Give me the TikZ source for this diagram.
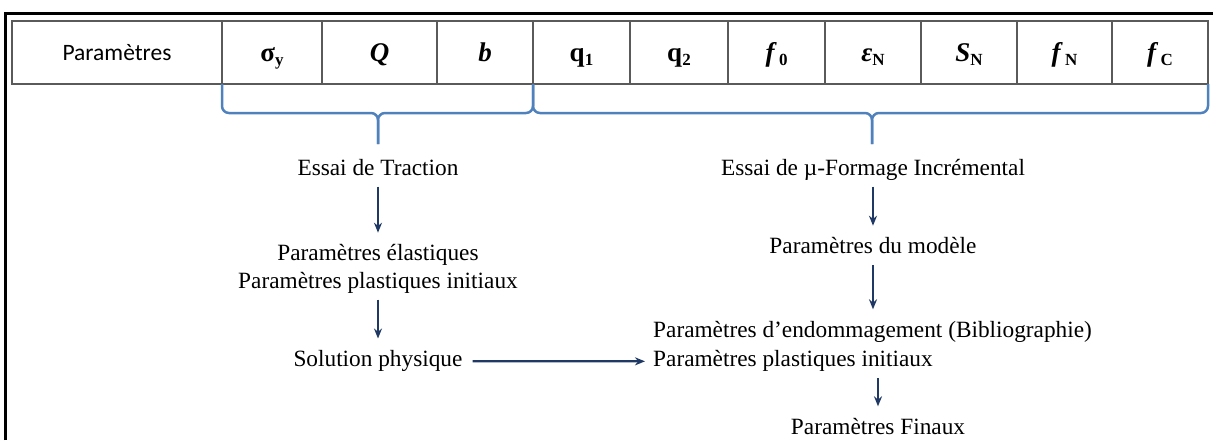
\documentclass[tikz,border=0pt]{standalone}
\usepackage{fontspec}
\setmainfont{Liberation Serif}
\newfontfamily\calib{Carlito}
\usetikzlibrary{arrows.meta, positioning, calc}
\definecolor{bracecol}{RGB}{79,129,189}
\definecolor{arrcol}{RGB}{31,56,100}
\definecolor{gridcol}{RGB}{90,90,90}
\newcommand{\idx}[1]{\raisebox{-0.35ex}{\fontsize{17}{17}\selectfont\bfseries\upshape #1}}
\tikzset{
  cell/.style = {rectangle, draw=gridcol, line width=1.5pt, minimum height=63pt,
                 inner sep=0pt, outer sep=0pt,
                 font=\fontsize{27}{30}\selectfont\bfseries},
  sym/.style  = {cell, text height=19pt, text depth=1pt},
  txt/.style  = {inner sep=0pt, text height=16pt, text depth=5pt,
                 font=\fontsize{23.3}{28}\selectfont},
  arr/.style  = {-{Stealth[length=10pt, width=8pt]}, line width=2.2pt, draw=arrcol,
                 shorten <=6pt, shorten >=12pt},
  brc/.style  = {draw=bracecol, line width=2.5pt, rounded corners=7pt},
}

\begin{document}
\begin{tikzpicture}[x=1pt, y=-1pt]
  \useasboundingbox (0,0) rectangle (1213,440);
  \draw[line width=3pt] (5,440) -- (5,13) -- (1213,13);

  % table of parameters
  \node[cell, anchor=north west, minimum width=210pt,
        font=\calib\fontsize{23.5}{28}\selectfont] (par) at (12,21) {Paramètres};
  \node[sym, right=0pt of par, minimum width=100pt] (sy) {σ\idx{y}};
  \node[sym, right=0pt of sy, minimum width=115pt] (Q) {\itshape Q};
  \node[sym, right=0pt of Q, minimum width=96pt] (b) {\itshape b};
  \node[sym, right=0pt of b, minimum width=97pt] (q1) {q\idx{1}};
  \node[sym, right=0pt of q1, minimum width=98pt] (q2) {q\idx{2}};
  \node[sym, right=0pt of q2, minimum width=97pt] (f0) {{\itshape f}\,\idx{0}};
  \node[sym, right=0pt of f0, minimum width=96pt] (eN) {{\itshape ε}\idx{N}};
  \node[sym, right=0pt of eN, minimum width=96pt] (SN) {{\itshape S}\idx{N}};
  \node[sym, right=0pt of SN, minimum width=95pt] (fN) {{\itshape f}\,\idx{N}};
  \node[sym, right=0pt of fN, minimum width=96pt] (fC) {{\itshape f}\,\idx{C}};

  % braces
  \coordinate (tipL) at (378,144);
  \coordinate (tipR) at (872,144);
  \draw[brc] (sy.south west) |- ($(tipL)+(0,-31)$) -- (tipL);
  \draw[brc] (b.south east) |- ($(tipL)+(0,-31)$) -- (tipL);
  \draw[brc] (q1.south west) |- ($(tipR)+(0,-31)$) -- (tipR);
  \draw[brc] (fC.south east) |- ($(tipR)+(0,-31)$) -- (tipR);

  % left column
  \node[txt] (ess1) at (378,170) {Essai de Traction};
  \node[txt, below=64pt of ess1] (elast1) {Paramètres élastiques};
  \node[txt, below=6pt of elast1] (elast2) {Paramètres plastiques initiaux};
  \node[txt, below=57pt of elast2] (sol) {Solution physique};

  % right column
  \node[txt] (ess2) at (873,170) {Essai de µ-Formage Incrémental};
  \node[txt, below=57pt of ess2] (model) {Paramètres du modèle};
  \node[txt, anchor=west] (endo) at (653,332) {Paramètres d’endommagement (Bibliographie)};
  \node[txt, below right=8pt and 0pt of endo.south west] (plinit) {Paramètres plastiques initiaux};
  \node[txt] (fin) at (878,429) {Paramètres Finaux};

  \draw[arr] (ess1) -- (elast1);
  \draw[arr] (elast2) -- (sol);
  \draw[arr, shorten <=10pt, shorten >=8pt] (sol) -- (plinit);
  \draw[arr] (ess2) -- (model);
  \draw[arr] (model.south) -- (model.south |- endo.north);
  \draw[arr] (plinit.south -| fin) -- (fin);
\end{tikzpicture}
\end{document}
